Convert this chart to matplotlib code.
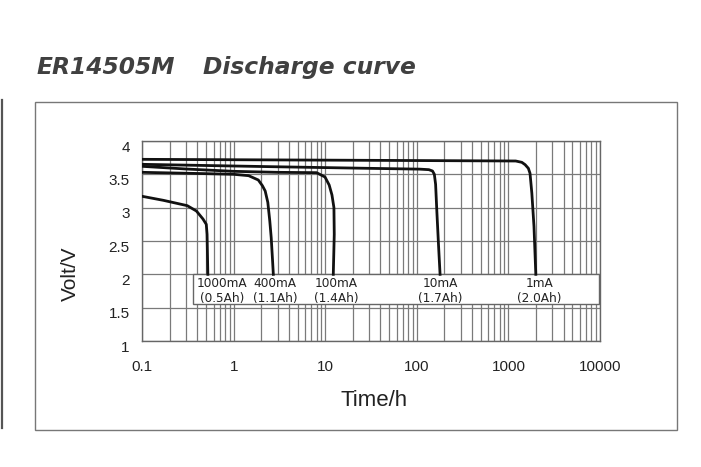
import matplotlib
matplotlib.use("Agg")
import matplotlib.pyplot as plt
import matplotlib.transforms as mtransforms
from matplotlib.patches import Rectangle

# ---- data ----
t_1mA = [0.1, 30, 1200, 1400, 1520, 1650, 1720, 1800, 1900, 1990]
v_1mA = [3.725, 3.71, 3.70, 3.68, 3.645, 3.59, 3.515, 3.22, 2.72, 2.0]

t_10mA = [0.1, 2.5, 30, 107, 135, 148, 155, 160, 165, 172, 179]
v_10mA = [3.65, 3.615, 3.59, 3.578, 3.57, 3.55, 3.50, 3.35, 2.95, 2.45, 2.0]

t_100mA = [0.1, 0.3, 1, 3, 8, 9.9, 11, 11.8, 12.4, 12.5, 12.3, 12.2]
v_100mA = [3.62, 3.58, 3.545, 3.53, 3.525, 3.46, 3.34, 3.19, 3.0, 2.6, 2.2, 2.0]

t_400mA = [0.1, 0.5, 1, 1.45, 1.85, 2.05, 2.2, 2.35, 2.47, 2.56, 2.65, 2.7]
v_400mA = [3.53, 3.51, 3.50, 3.48, 3.415, 3.33, 3.25, 3.08, 2.8, 2.55, 2.2, 2.0]

t_1000mA = [0.1, 0.17, 0.31, 0.39, 0.46, 0.50, 0.51, 0.515, 0.52]
v_1000mA = [3.17, 3.11, 3.03, 2.95, 2.83, 2.75, 2.6, 2.3, 2.0]

curve_labels = ["1000mA\n(0.5Ah)", "400mA\n(1.1Ah)", "100mA\n(1.4Ah)", "10mA\n(1.7Ah)", "1mA\n(2.0Ah)"]
label_t = [0.74, 2.82, 13.1, 180, 2170]

xticks = [0.1, 1, 10, 100, 1000, 10000]
xticklabels = ["0.1", "1", "10", "100", "1000", "10000"]
yticks = [1, 1.5, 2, 2.5, 3, 3.5, 4]
yticklabels = ["1", "1.5", "2", "2.5", "3", "3.5", "4"]

# ---- figure ----
W, H = 701, 467
fig = plt.figure(figsize=(W / 100, H / 100), dpi=100)
plt.rcParams['font.family'] = ['Liberation Sans', 'DejaVu Sans']

ax = fig.add_axes([142.3 / W, 1 - 341 / H, (600 - 142.3) / W, (341 - 141) / H])
ax.set_xscale('log')
ax.set_xlim(0.1, 10000)
ax.set_ylim(1, 4)

gridc = '#7a7a7a'
ax.grid(True, which='major', axis='both', color=gridc, lw=0.9, zorder=1)
ax.grid(True, which='minor', axis='x', color=gridc, lw=0.9, zorder=1)
for s in ax.spines.values():
    s.set_color('#666666')
    s.set_linewidth(1.0)

ax.set_xticks(xticks)
ax.set_xticklabels(xticklabels)
ax.set_yticks(yticks)
ax.set_yticklabels(yticklabels)
ax.tick_params(axis='both', which='both', length=0, labelsize=11, colors='#222222')
ax.tick_params(axis='x', pad=14)
ax.tick_params(axis='y', pad=9)
offset = mtransforms.ScaledTranslation(0, -5 / 100, fig.dpi_scale_trans)
for lab in ax.get_yticklabels():
    lab.set_transform(lab.get_transform() + offset)

# label box
box = Rectangle((0.36, 1.555), 9800 - 0.36, 2.0 - 1.555, facecolor='white',
                edgecolor='#666666', lw=1.0, zorder=2)
ax.add_patch(box)
for lab, tx in zip(curve_labels, label_t):
    ax.text(tx, 1.75, lab, ha='center', va='center', fontsize=8.7,
            family=['DejaVu Sans'], color='#222222', linespacing=1.2, zorder=3)

for t, v in [(t_1mA, v_1mA), (t_10mA, v_10mA), (t_100mA, v_100mA),
             (t_400mA, v_400mA), (t_1000mA, v_1000mA)]:
    ax.plot(t, v, color='#111111', lw=2.0, solid_joinstyle='round', zorder=4)

fig.text(374 / W, 1 - 401 / H, "Time/h", fontsize=16, color='#222222',
         ha='center', va='center')
fig.text(70 / W, 1 - 274 / H, "Volt/V", fontsize=15, color='#222222',
         ha='center', va='center', rotation=90)

# title
fig.text(37 / W, 1 - 74 / H, "ER14505M", fontsize=16.8, family=['DejaVu Sans'],
         fontweight='bold', fontstyle='italic', color='#404040', va='baseline')
fig.text(203 / W, 1 - 74 / H, "Discharge curve", fontsize=16.8, family=['DejaVu Sans'],
         fontweight='bold', fontstyle='italic', color='#404040', va='baseline')

# outer frame and left line
frame = Rectangle((34.5 / W, 1 - 430 / H), (677 - 34.5) / W, (430 - 101.5) / H,
                  transform=fig.transFigure, facecolor='none', edgecolor='#777777',
                  lw=1.0, zorder=0)
fig.patches.append(frame)
fig.add_artist(plt.Line2D([1.5 / W, 1.5 / W], [1 - 428 / H, 1 - 100 / H],
                          transform=fig.transFigure, color='#555555', lw=1.6))

fig.savefig("out.png", dpi=100)
